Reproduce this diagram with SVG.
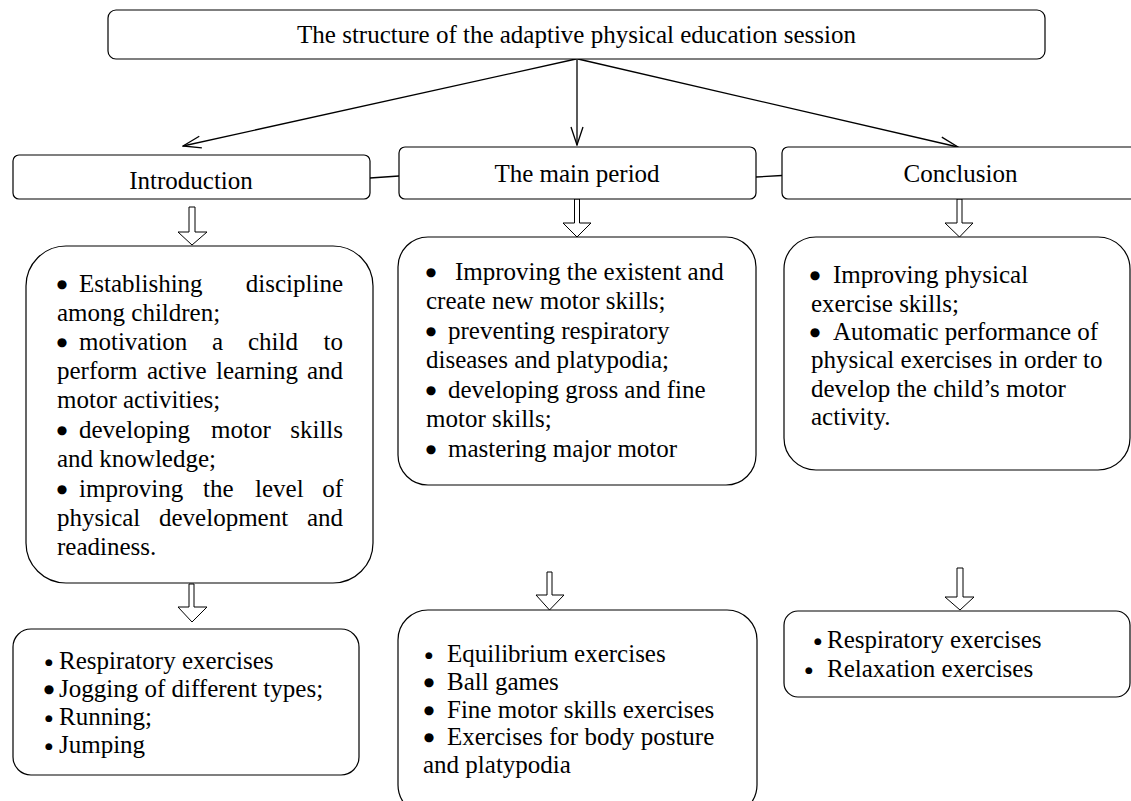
<svg xmlns="http://www.w3.org/2000/svg" width="1131" height="801" viewBox="0 0 1131 801">
<defs>
<style>
text{font-family:"Liberation Serif","Times New Roman",serif;font-size:25px;fill:#000}
.box{fill:#fff;stroke:#000;stroke-width:1.2}
.conn{stroke:#000;stroke-width:1.3;fill:none}
.hol{fill:#fff;stroke:#000;stroke-width:1}
.c{text-anchor:middle}
.e{text-anchor:end}
.bb,.sb{font-family:"DejaVu Sans",sans-serif;text-anchor:middle}
.bb{font-size:12px}
.sb{font-size:9px}
</style>
<marker id="v" viewBox="0 0 20 14" markerWidth="20" markerHeight="14" refX="19" refY="7" orient="auto" markerUnits="userSpaceOnUse">
<path d="M1,1 L19,7 L1,13" fill="none" stroke="#000" stroke-width="1.3"/>
</marker>
</defs>
<rect width="1131" height="801" fill="#fff"/>

<g id="connectors">
<line class="conn" x1="576" y1="59" x2="183" y2="146" marker-end="url(#v)"/>
<line class="conn" x1="577" y1="59" x2="577" y2="145" marker-end="url(#v)"/>
<line class="conn" x1="578" y1="59" x2="958" y2="147" marker-end="url(#v)"/>
<line class="conn" x1="370" y1="178" x2="399" y2="176"/>
<line class="conn" x1="756" y1="177" x2="782" y2="175.5"/>
<path class="hol" d="M189,207 H195 V232 H207 L192,245 L178,232 H189 Z"/>
<path class="hol" d="M574.5,199 H579.5 V223 H591 L577,237 L563,223 H574.5 Z"/>
<path class="hol" d="M957,199 H962 V223 H973 L959.5,237 L945,223 H957 Z"/>
<path class="hol" d="M189,584 H194 V607 H207 L192,622 L178,607 H189 Z"/>
<path class="hol" d="M547,572 H552 V595 H564 L549.5,610 L536,595 H547 Z"/>
<path class="hol" d="M957,568 H963 V597 H974 L960,610 L945,597 H957 Z"/>
</g>

<g id="root">
<rect class="box" x="108" y="10" width="937" height="49" rx="8"/>
<text class="c" x="576.5" y="43">The structure of the adaptive physical education session</text>
</g>

<g id="introduction">
<rect class="box" x="13" y="155" width="357" height="44" rx="6"/>
<text class="c" x="191" y="189">Introduction</text>
</g>

<g id="main-period">
<rect class="box" x="399" y="147" width="357" height="52" rx="6"/>
<text class="c" x="577" y="182">The main period</text>
</g>

<g id="conclusion">
<rect class="box" x="782" y="147" width="360" height="52" rx="6"/>
<text class="c" x="960.5" y="182">Conclusion</text>
</g>

<g id="intro-goals">
<rect class="box" x="26" y="246" width="347" height="337" rx="40"/>
<text class="bb" x="62" y="288">●</text><text x="79" y="292">Establishing</text><text class="e" x="343" y="292">discipline</text>
<text x="57" y="321">among children;</text>
<text class="bb" x="62" y="346">●</text><text x="79" y="350">motivation</text><text x="212" y="350">a</text><text x="248" y="350">child</text><text class="e" x="343" y="350">to</text>
<text x="57" y="379">perform</text><text x="147" y="379">active</text><text x="216" y="379">learning</text><text class="e" x="343" y="379">and</text>
<text x="57" y="408">motor activities;</text>
<text class="bb" x="62" y="434">●</text><text x="79" y="438">developing</text><text x="211" y="438">motor</text><text class="e" x="343" y="438">skills</text>
<text x="57" y="467">and knowledge;</text>
<text class="bb" x="62" y="493">●</text><text x="79" y="497">improving</text><text x="203" y="497">the</text><text x="255" y="497">level</text><text class="e" x="343" y="497">of</text>
<text x="57" y="526">physical</text><text x="159" y="526">development</text><text class="e" x="343" y="526">and</text>
<text x="57" y="555">readiness.</text>
</g>

<g id="main-goals">
<rect class="box" x="398" y="237" width="358" height="248" rx="30"/>
<text class="bb" x="431" y="276">●</text><text x="455" y="280">Improving the existent and</text>
<text x="426" y="309">create new motor skills;</text>
<text class="bb" x="431" y="335">●</text><text x="448" y="339">preventing respiratory</text>
<text x="426" y="368">diseases and platypodia;</text>
<text class="bb" x="431" y="394">●</text><text x="448" y="398">developing gross and fine</text>
<text x="426" y="427">motor skills;</text>
<text class="bb" x="431" y="453">●</text><text x="448" y="457">mastering major motor</text>
</g>

<g id="conclusion-goals">
<rect class="box" x="784" y="237" width="346" height="233" rx="32"/>
<text class="bb" x="815" y="279">●</text><text x="833" y="283">Improving physical</text>
<text x="811" y="312">exercise skills;</text>
<text class="bb" x="815" y="336">●</text><text x="833" y="340">Automatic performance of</text>
<text x="811" y="368">physical exercises in order to</text>
<text x="811" y="397">develop the child’s motor</text>
<text x="811" y="425">activity.</text>
</g>

<g id="intro-exercises">
<rect class="box" x="13" y="629" width="346" height="146" rx="18"/>
<text class="sb" x="49" y="665">●</text><text x="59" y="669">Respiratory exercises</text>
<text class="bb" x="49" y="693">●</text><text x="59" y="697">Jogging of different types;</text>
<text class="sb" x="49" y="721">●</text><text x="59" y="725">Running;</text>
<text class="sb" x="49" y="749">●</text><text x="59" y="753">Jumping</text>
</g>

<g id="main-exercises">
<rect class="box" x="398" y="610" width="359" height="205" rx="30"/>
<text class="sb" x="429" y="658">●</text><text x="447" y="662">Equilibrium exercises</text>
<text class="bb" x="429" y="686">●</text><text x="447" y="690">Ball games</text>
<text class="bb" x="429" y="714">●</text><text x="447" y="718">Fine motor skills exercises</text>
<text class="bb" x="429" y="741">●</text><text x="447" y="745">Exercises for body posture</text>
<text x="423" y="773">and platypodia</text>
</g>

<g id="conclusion-exercises">
<rect class="box" x="784" y="611" width="346" height="86" rx="14"/>
<text class="sb" x="818" y="644">●</text><text x="827" y="648">Respiratory exercises</text>
<text class="sb" x="809" y="673">●</text><text x="827" y="677">Relaxation exercises</text>
</g>
</svg>
